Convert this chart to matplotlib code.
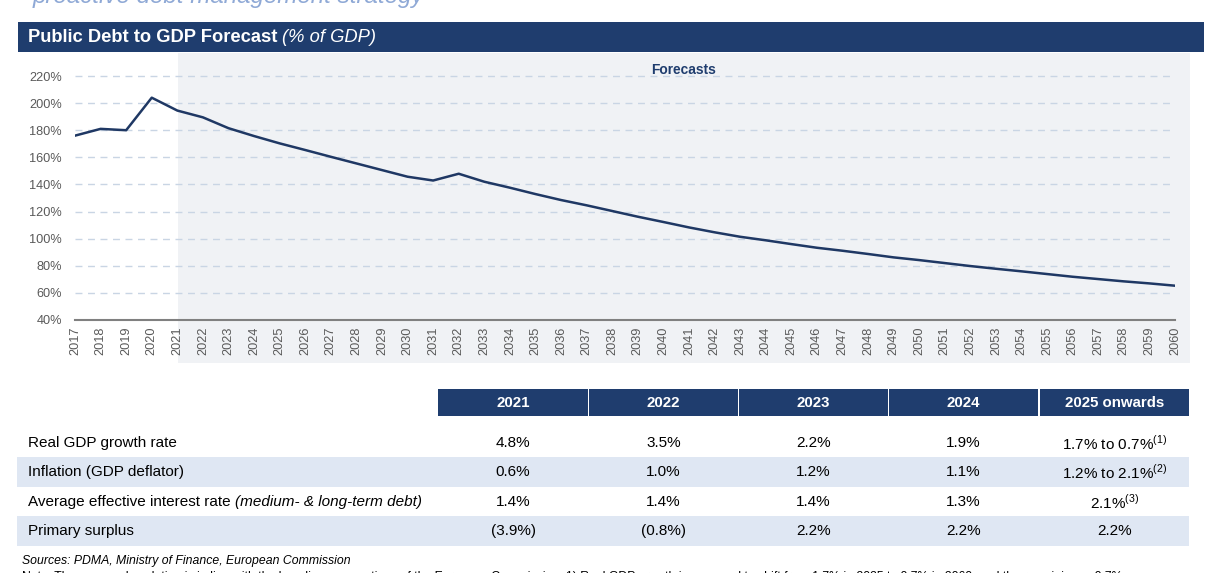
import matplotlib
matplotlib.use("Agg")
import matplotlib.pyplot as plt
from matplotlib.patches import Rectangle

plt.rcParams['font.family'] = ['Liberation Sans', 'DejaVu Sans']
plt.rcParams['mathtext.fontset'] = 'custom'
plt.rcParams['mathtext.rm'] = 'Liberation Sans'

W, H = 1219, 573
NAVY = '#1f3d6e'
LINE = '#1f3864'
SHADE = '#f0f2f5'
ROWBG = '#dfe7f3'
GREY = '#595959'

# data
years = list(range(2017, 2061))
debt = [176, 181, 180, 204, 194.5, 189.5, 181.5, 175.7, 170.3, 165.4,
        160.4, 155.5, 150.6, 145.7, 142.9, 147.9, 142, 137.6, 132.9, 128.5,
        124.6, 120.4, 116.2, 112.3, 108.3, 104.7, 101.4, 98.8, 96, 93.3,
        91.1, 88.7, 86.2, 84.2, 82, 79.8, 77.8, 75.9, 73.9, 71.9,
        70.2, 68.5, 67, 65.3]
yticks = [40, 60, 80, 100, 120, 140, 160, 180, 200, 220]

col_heads = ['2021', '2022', '2023', '2024', '2025 onwards']
row_labels = ['Real GDP growth rate', 'Inflation (GDP deflator)',
              'Average effective interest rate ', 'Primary surplus']
row_label_italic = ['', '', '(medium- & long-term debt)', '']
table_vals = [
    ['4.8%', '3.5%', '2.2%', '1.9%', '1.7% to 0.7%$^{(1)}$'],
    ['0.6%', '1.0%', '1.2%', '1.1%', '1.2% to 2.1%$^{(2)}$'],
    ['1.4%', '1.4%', '1.4%', '1.3%', '2.1%$^{(3)}$'],
    ['(3.9%)', '(0.8%)', '2.2%', '2.2%', '2.2%'],
]


def fx(px):
    return px / W


def fy(py):
    return 1 - py / H


def frect(x0, y0, x1, y1, color, z=-1):
    fig.patches.append(Rectangle((fx(x0), fy(y1)), fx(x1) - fx(x0), fy(y0) - fy(y1),
                                 transform=fig.transFigure, facecolor=color,
                                 edgecolor='none', zorder=z))


fig = plt.figure(figsize=(W / 100, H / 100), dpi=100)
fig.patch.set_facecolor('white')

# cut-off subtitle at top
fig.text(fx(33), fy(3), 'proactive debt management strategy', fontsize=17.4,
         style='italic', color='#8fa9d6', va='baseline', ha='left')

# title bar
frect(18, 22, 1204, 52, NAVY)
t1 = fig.text(fx(28), fy(37.5), 'Public Debt to GDP Forecast ', fontsize=13.2,
              weight='bold', color='white', va='center', ha='left')
fig.canvas.draw()
r = fig.canvas.get_renderer()
bb = t1.get_window_extent(r)
fig.text(bb.x1 / W, fy(37.5), '(% of GDP)', fontsize=13.2, style='italic',
         color='white', va='center', ha='left')

# forecast shading
frect(178, 53, 1190, 363, SHADE)
fig.text(fx(684), fy(70), 'Forecasts', fontsize=9.9, weight='bold', color=NAVY,
         ha='center', va='center')

ax = fig.add_axes([fx(75), fy(320), fx(1175) - fx(75), fy(76) - fy(320)])
ax.set_zorder(2)
ax.set_facecolor('none')
ax.set_xlim(2017, 2060)
ax.set_ylim(40, 220)
for v in yticks[1:]:
    ax.plot([2017, 2059.8], [v, v], color='#c9d5e4', lw=1, ls=(0, (5, 4)),
            zorder=1, clip_on=False)
ax.plot(years, debt, color=LINE, lw=1.8, zorder=3, solid_joinstyle='round')
for s in ['top', 'right', 'left']:
    ax.spines[s].set_visible(False)
ax.spines['bottom'].set_color('#808080')
ax.spines['bottom'].set_linewidth(1.5)
ax.set_yticks(yticks)
ax.set_yticklabels([f'{v}%' for v in yticks])
ax.set_xticks(years)
ax.set_xticklabels([str(y) for y in years], rotation=90)
ax.tick_params(axis='both', length=0, labelsize=9.2, colors=GREY)
ax.tick_params(axis='y', pad=9.5)
ax.tick_params(axis='x', pad=5)

# table
col_x0 = [438, 589, 739, 889, 1040]
col_x1 = [588, 738, 888, 1038, 1189]
for x0, x1, h in zip(col_x0, col_x1, col_heads):
    frect(x0, 389, x1, 416, NAVY)
    fig.text(fx((x0 + x1) / 2), fy(403), h, fontsize=10.8, weight='bold',
             color='white', ha='center', va='center')

row_y = [443, 472, 502, 531]
for i, yc in enumerate(row_y):
    if i % 2 == 1:
        frect(17, yc - 15, 1189, yc + 15, ROWBG)
    t = fig.text(fx(28), fy(yc), row_labels[i], fontsize=11, color='black',
                 ha='left', va='center')
    if row_label_italic[i]:
        fig.canvas.draw()
        b = t.get_window_extent(fig.canvas.get_renderer())
        fig.text(b.x1 / W, fy(yc), row_label_italic[i], fontsize=11,
                 style='italic', color='black', ha='left', va='center')
    for j, val in enumerate(table_vals[i]):
        fig.text(fx((col_x0[j] + col_x1[j]) / 2), fy(yc), val, fontsize=11,
                 color='black', ha='center', va='center')

fig.text(fx(22), fy(561), 'Sources: PDMA, Ministry of Finance, European Commission',
         fontsize=8.8, style='italic', color='black', ha='left', va='center')
fig.text(fx(22), fy(577), 'Note: The assumed evolution is in line with the baseline assumptions '
         'of the European Commission. 1) Real GDP growth is assumed to shift from 1.7% in 2025 '
         'to 0.7% in 2060, and the remaining ... 0.7%',
         fontsize=8.8, color='black', ha='left', va='center')

fig.savefig('out.png', dpi=100)
